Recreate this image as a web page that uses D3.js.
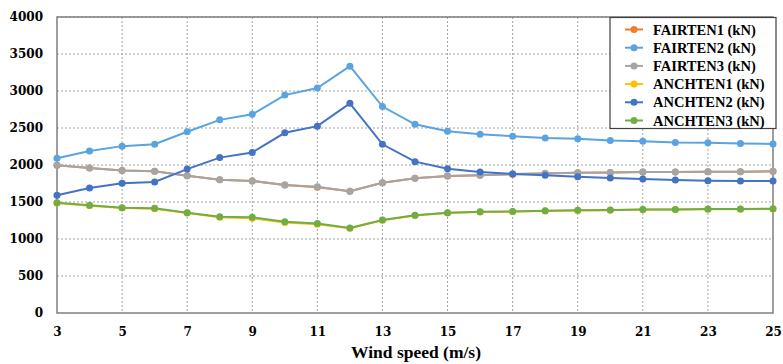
<!DOCTYPE html>
<html>
<head>
<meta charset="utf-8">
<script src="https://cdn.jsdelivr.net/npm/d3@7"></script>
<style>
  body { margin: 0; background: #fff; }
  text { font-family: "Liberation Serif", "DejaVu Serif", serif; font-weight: bold; }
</style>
</head>
<body>
<svg width="783" height="364"></svg>
<script>
// Wind speeds (m/s)
const windSpeed = [3,4,5,6,7,8,9,10,11,12,13,14,15,16,17,18,19,20,21,22,23,24,25];

// Series values (kN)
const fairten1 = [1995,1960,1925,1915,1855,1800,1785,1730,1700,1645,1760,1820,1850,1860,1875,1885,1895,1900,1905,1905,1910,1910,1915];
const fairten2 = [2090,2190,2255,2280,2450,2610,2685,2945,3040,3335,2790,2550,2455,2415,2390,2365,2355,2330,2320,2305,2300,2290,2285];
const fairten3 = [1995,1960,1925,1915,1855,1800,1785,1730,1705,1645,1760,1820,1850,1860,1878,1887,1896,1900,1905,1905,1910,1910,1915];
const anchten1 = [1488,1450,1418,1410,1350,1295,1280,1222,1200,1145,1252,1318,1352,1366,1370,1380,1385,1390,1398,1398,1403,1403,1407];
const anchten2 = [1590,1690,1752,1770,1945,2100,2170,2435,2525,2833,2280,2045,1950,1905,1878,1860,1842,1824,1810,1797,1788,1783,1783];
const anchten3 = [1490,1455,1423,1414,1355,1301,1293,1234,1211,1148,1256,1320,1355,1369,1373,1382,1387,1391,1400,1400,1405,1405,1409];

const seriesNames = ["FAIRTEN1 (kN)","FAIRTEN2 (kN)","FAIRTEN3 (kN)","ANCHTEN1 (kN)","ANCHTEN2 (kN)","ANCHTEN3 (kN)"];
const seriesValues = [fairten1, fairten2, fairten3, anchten1, anchten2, anchten3];
const seriesColors = ["#ED7D31","#5BA3E0","#A5A5A5","#FFC000","#4472C4","#70AD47"];

const xTicks = [3,5,7,9,11,13,15,17,19,21,23,25];
const yTicks = [0,500,1000,1500,2000,2500,3000,3500,4000];

const margin = {top: 17, right: 10, bottom: 51, left: 57},
      width = 783 - margin.left - margin.right,
      height = 364 - margin.top - margin.bottom;

const svg = d3.select("svg")
  .append("g")
    .attr("transform", `translate(${margin.left},${margin.top})`);

const x = d3.scaleLinear().domain([3, 25]).range([0, width]);
const y = d3.scaleLinear().domain([0, 4000]).range([height, 0]);

// Grid
svg.append("g")
  .selectAll("line")
  .data(yTicks.slice(1))
  .enter().append("line")
    .attr("x1", 0).attr("x2", width)
    .attr("y1", d => y(d)).attr("y2", d => y(d))
    .attr("stroke", "#8c8c8c").attr("stroke-width", 0.8)
    .attr("stroke-dasharray", "2,2");

svg.append("g")
  .selectAll("line")
  .data(xTicks.slice(1, -1))
  .enter().append("line")
    .attr("x1", d => x(d)).attr("x2", d => x(d))
    .attr("y1", 0).attr("y2", height)
    .attr("stroke", "#8c8c8c").attr("stroke-width", 0.8)
    .attr("stroke-dasharray", "2,2");

// Frame
svg.append("rect")
  .attr("width", width).attr("height", height)
  .attr("fill", "none").attr("stroke", "#7f7f7f").attr("stroke-width", 1.5);

// Axes
const xAxis = svg.append("g")
  .attr("transform", `translate(0,${height})`)
  .call(d3.axisBottom(x).tickValues(xTicks).tickSize(0).tickPadding(14));
xAxis.select(".domain").remove();
xAxis.selectAll("text").attr("font-size", 12).attr("fill", "#000")
  .style("font-family", "DejaVu Serif").style("font-weight", "bold");

const yAxis = svg.append("g")
  .call(d3.axisLeft(y).tickValues(yTicks).tickFormat(d3.format("d")).tickSize(0).tickPadding(14));
yAxis.select(".domain").remove();
yAxis.selectAll("text").attr("font-size", 12).attr("fill", "#000")
  .style("font-family", "DejaVu Serif").style("font-weight", "bold");

svg.append("text")
  .attr("x", width / 2 + 1).attr("y", height + 45)
  .attr("text-anchor", "middle")
  .attr("font-size", 17.5)
  .text("Wind speed (m/s)");

// Lines and points
const line = d3.line()
  .x((d, i) => x(windSpeed[i]))
  .y(d => y(d));

const order = [0, 2, 3, 5, 1, 4];
order.forEach(k => {
  const g = svg.append("g");
  g.append("path")
    .datum(seriesValues[k])
    .attr("fill", "none")
    .attr("stroke", seriesColors[k])
    .attr("stroke-width", 2)
    .attr("d", line);
  g.selectAll("circle")
    .data(seriesValues[k])
    .enter().append("circle")
      .attr("cx", (d, i) => x(windSpeed[i]))
      .attr("cy", d => y(d))
      .attr("r", 3.5)
      .attr("fill", seriesColors[k]);
});

// Legend
const legend = svg.append("g")
  .attr("transform", `translate(${610 - margin.left},${17.5 - margin.top})`);
legend.append("rect")
  .attr("width", 166).attr("height", 111)
  .attr("fill", "#fff").attr("stroke", "#404040").attr("stroke-width", 1.2);

seriesNames.forEach((name, i) => {
  const row = legend.append("g").attr("transform", `translate(0,${12 + i * 18.2})`);
  row.append("line")
    .attr("x1", 15).attr("x2", 33)
    .attr("stroke", seriesColors[i]).attr("stroke-width", 2);
  row.append("circle")
    .attr("cx", 24).attr("r", 3.5).attr("fill", seriesColors[i]);
  row.append("text")
    .attr("x", 43).attr("dy", "0.35em")
    .attr("font-size", 14.5)
    .text(name);
});
</script>
</body>
</html>
